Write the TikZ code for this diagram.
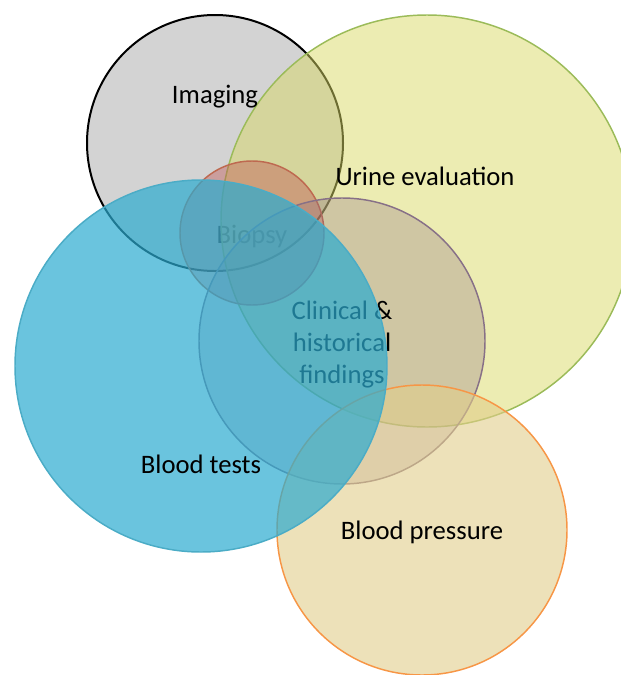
\documentclass[tikz,border=0pt]{standalone}
\usepackage{fontspec}
\setmainfont{Carlito}

\tikzset{every picture/.style={line width=0.75pt}}
\tikzset{vennlabel/.style={anchor=center, inner sep=0.75pt, align=center, font=\fontsize{20}{24}\selectfont}}

\begin{document}
\begin{tikzpicture}[x=0.75pt,y=0.75pt,yscale=-1,xscale=1]
\useasboundingbox (0,0) rectangle (621,675);

%Shape: Circle [id:imaging]
\draw [color={rgb, 255:red, 0; green, 0; blue, 0 }, line width=1.5, fill={rgb, 255:red, 182; green, 182; blue, 182 }, fill opacity=0.6] (215,143) circle [radius=128];
% Text Node
\draw (252,236) node (biopsylabel) [vennlabel] {Biopsy};
%Shape: Circle [id:urine]
\draw [color={rgb, 255:red, 155; green, 187; blue, 89 }, line width=1.1, fill={rgb, 255:red, 217; green, 217; blue, 101 }, fill opacity=0.5] (427,221) circle [radius=206];
%Shape: Circle [id:biopsy]
\draw [color={rgb, 255:red, 190; green, 105; blue, 80 }, line width=1.1, fill={rgb, 255:red, 192; green, 80; blue, 77 }, fill opacity=0.4] (252,233) circle [radius=72];
%Shape: Circle [id:clinical]
\draw [color={rgb, 255:red, 135; green, 112; blue, 135 }, line width=1.1, fill={rgb, 255:red, 140; green, 110; blue, 130 }, fill opacity=0.3] (342,341) circle [radius=143];
% Text Node
\draw (342,345) node (clinicallabel) [vennlabel] {Clinical \&\\historical\\findings};
%Shape: Circle [id:pressure]
\draw [color={rgb, 255:red, 247; green, 150; blue, 70 }, line width=1.1, fill={rgb, 255:red, 225; green, 205; blue, 138 }, fill opacity=0.6] (422,530) circle [radius=145];
%Shape: Circle [id:blood]
\draw [color={rgb, 255:red, 75; green, 172; blue, 198 }, line width=1.1, fill={rgb, 255:red, 43; green, 171; blue, 208 }, fill opacity=0.7] (201,366) circle [radius=186];

% Text Node
\draw (215,97) node (imaginglabel) [vennlabel] {Imaging};
% Text Node
\draw (425,176) node (urinelabel) [vennlabel] {Urine evaluation};
% Text Node
\draw (201,464) node (bloodlabel) [vennlabel] {Blood tests};
% Text Node
\draw (422,532) node (pressurelabel) [vennlabel] {Blood pressure};

\end{tikzpicture}
\end{document}
